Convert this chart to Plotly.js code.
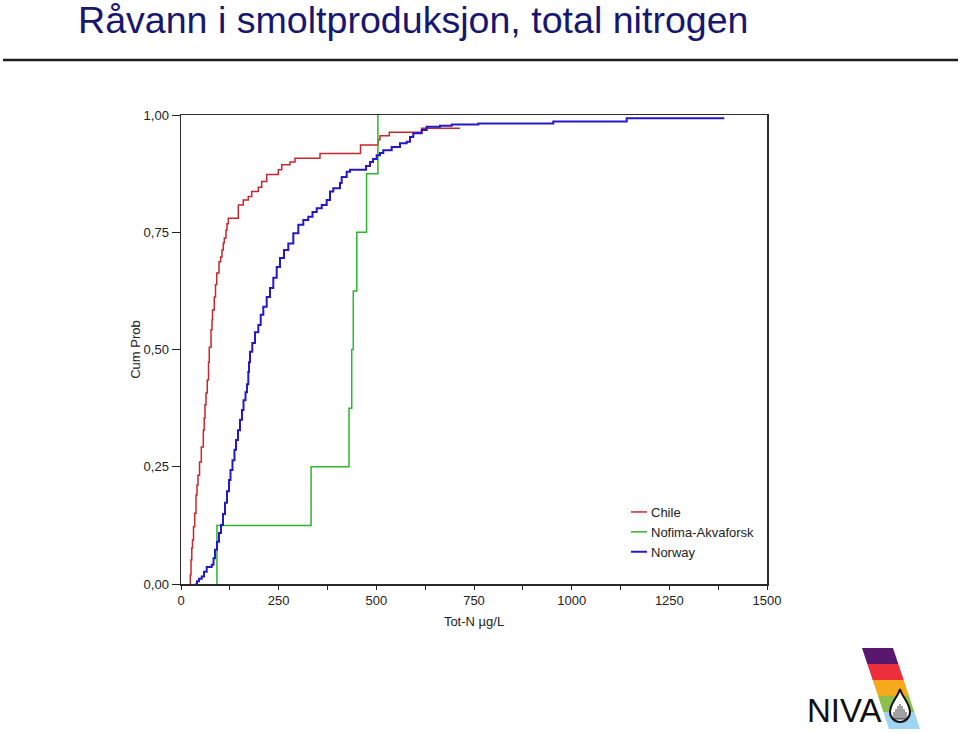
<!DOCTYPE html>
<html>
<head>
<meta charset="utf-8">
<script src="https://cdn.plot.ly/plotly-3.0.1.min.js"></script>
<style>
  html, body { margin: 0; padding: 0; background: #ffffff; }
  #chart { width: 960px; height: 733px; }
</style>
</head>
<body>
<div id="chart"></div>
<script>
// ---- Data ----
const seriesNames = ["Chile", "Nofima-Akvaforsk", "Norway"];

// Chile: Tot-N value (µg/L) and cumulative probability at each step
const chileX = [22.3, 23.8, 25.6, 27.6, 29.4, 32.0, 35.1, 38.4, 41.0, 43.5, 47.4, 52.0, 57.1, 59.4, 61.4, 64.0, 67.3, 70.4, 72.4, 76.8, 79.4, 80.6, 85.2, 88.3, 91.4, 97.3, 101.6, 104.9, 108.3, 110.8, 115.2, 117.7, 121.1, 146.7, 159.5, 172.3, 181.0, 197.9, 206.6, 219.4, 249.1, 257.8, 279.0, 291.8, 355.8, 459.5, 505.0, 509.4, 533.2, 616.1, 714.1];
const chileP = [0, 0.019, 0.051, 0.077, 0.094, 0.122, 0.151, 0.190, 0.211, 0.232, 0.260, 0.292, 0.328, 0.354, 0.382, 0.407, 0.435, 0.473, 0.505, 0.542, 0.563, 0.584, 0.612, 0.638, 0.663, 0.687, 0.697, 0.712, 0.727, 0.738, 0.755, 0.768, 0.780, 0.808, 0.819, 0.826, 0.837, 0.846, 0.858, 0.873, 0.883, 0.894, 0.900, 0.908, 0.918, 0.936, 0.947, 0.956, 0.963, 0.972, 0.972];

// Nofima-Akvaforsk
const nofimaX = [92, 92, 333, 430, 437, 441, 450, 475, 504];
const nofimaP = [0, 0.125, 0.25, 0.375, 0.5, 0.625, 0.75, 0.875, 1.0];

// Norway
const norwayX = [37.1, 41.0, 46.1, 53.0, 58.9, 65.8, 78.6, 83.2, 87.0, 92.1, 97.3, 102.4, 107.5, 112.6, 117.7, 122.9, 126.7, 131.8, 136.9, 140.8, 145.9, 151.0, 156.1, 160.0, 165.1, 168.9, 172.3, 174.1, 176.6, 182.5, 189.4, 197.9, 204.0, 210.7, 219.4, 227.8, 236.3, 245.0, 253.4, 263.6, 274.7, 287.5, 300.3, 313.1, 325.8, 336.6, 347.4, 360.2, 372.9, 381.4, 389.8, 407.0, 411.3, 424.1, 432.6, 473.5, 483.8, 491.5, 500.9, 509.4, 517.8, 539.3, 560.6, 577.7, 586.2, 594.6, 616.1, 628.9, 663.0, 692.9, 761.0, 953.0, 1140.9, 1390.7];
const norwayP = [0, 0.006, 0.011, 0.016, 0.026, 0.036, 0.041, 0.055, 0.073, 0.090, 0.109, 0.126, 0.149, 0.173, 0.198, 0.222, 0.243, 0.264, 0.286, 0.307, 0.328, 0.350, 0.371, 0.392, 0.409, 0.426, 0.452, 0.473, 0.495, 0.514, 0.537, 0.552, 0.574, 0.591, 0.612, 0.631, 0.653, 0.676, 0.695, 0.712, 0.726, 0.748, 0.766, 0.776, 0.783, 0.793, 0.801, 0.808, 0.819, 0.837, 0.844, 0.855, 0.868, 0.879, 0.883, 0.891, 0.900, 0.906, 0.914, 0.919, 0.925, 0.932, 0.940, 0.943, 0.953, 0.961, 0.968, 0.975, 0.977, 0.980, 0.982, 0.986, 0.993, 0.993];

const yTickVals = [0, 0.25, 0.5, 0.75, 1.0];
const xTickVals = [0, 250, 500, 750, 1000, 1250, 1500];

const titleText = "Råvann i smoltproduksjon, total nitrogen";
const xTitle = "Tot-N µg/L";
const yTitle = "Cum Prob";

// ---- Styling ----
const FONT = "Liberation Sans, Arial, Helvetica, sans-serif";
const colors = ["#c8282d", "#2eb42e", "#2418c8"];
const widths = [1.5, 1.5, 2];

const traces = [
  {x: chileX, y: chileP},
  {x: nofimaX, y: nofimaP},
  {x: norwayX, y: norwayP}
].map((d, i) => ({
  type: "scatter", mode: "lines", name: seriesNames[i],
  x: d.x, y: d.y,
  line: {shape: "hv", color: colors[i], width: widths[i]},
  cliponaxis: false,
  hoverinfo: "x+y+name"
}));

// plot area in pixels (for decorative logo / rule placement)
const ML = 181, MR = 193, MT = 115, MB = 149, W = 960, H = 733;
const PW = W - ML - MR, PH = H - MT - MB;
const px = v => (v - ML) / PW;
const py = v => (H - MB - v) / PH;
const P = (x, y) => px(x).toFixed(5) + "," + py(y).toFixed(5);

// NIVA logo stripes (slanted parallelogram bands)
const bandY = [648, 664, 680, 696, 712, 729];
const bandColors = ["#5a176e", "#ec2f3a", "#f6a91c", "#8dbf4a", "#9fd4f2"];
const shapes = [];
shapes.push({type: "line", xref: "paper", yref: "paper",
  x0: px(3), x1: px(958), y0: py(60), y1: py(60),
  line: {color: "#1e1e1e", width: 2.5}});
for (let i = 0; i < 5; i++) {
  const y0 = bandY[i], y1 = bandY[i + 1];
  const l0 = 862 + (y0 - 648) / 3, l1 = 862 + (y1 - 648) / 3;
  const path = "M" + P(l0, y0) + " L" + P(l0 + 31, y0) + " L" + P(l1 + 31, y1) + " L" + P(l1, y1) + " Z";
  shapes.push({type: "path", xref: "paper", yref: "paper", path: path,
    fillcolor: bandColors[i], line: {width: 0}, layer: "above"});
}
// drop
const dropPath = "M" + P(900, 689) + " C" + P(902, 697) + " " + P(910, 703) + " " + P(910, 712) +
  " C" + P(910, 717.5) + " " + P(905.5, 722) + " " + P(900, 722) +
  " C" + P(894.5, 722) + " " + P(890, 717.5) + " " + P(890, 712) +
  " C" + P(890, 703) + " " + P(898, 697) + " " + P(900, 689) + " Z";
shapes.push({type: "path", xref: "paper", yref: "paper", path: dropPath,
  fillcolor: "#ffffff", line: {color: "#111111", width: 2}, layer: "above"});
const combTops = [712, 709, 706, 704, 706, 709, 712];
let comb = "";
for (let k = 0; k < 7; k++) {
  const x = 894 + k * 2;
  comb += "M" + P(x, combTops[k]) + " L" + P(x, 719) + " ";
}
comb += "M" + P(893, 719) + " L" + P(907, 719);
shapes.push({type: "path", xref: "paper", yref: "paper", path: comb,
  line: {color: "#111111", width: 0.8}, layer: "above"});

const layout = {
  width: W, height: H,
  margin: {l: ML, r: MR, t: MT, b: MB, pad: 0},
  paper_bgcolor: "#ffffff", plot_bgcolor: "#ffffff",
  separators: ",.",
  font: {family: FONT, size: 13, color: "#222222"},
  title: {
    text: titleText,
    font: {family: FONT, size: 37.6, color: "#17176f"},
    x: 78 / W, xref: "container", xanchor: "left",
    y: 1 - 20 / H, yref: "container", yanchor: "middle"
  },
  showlegend: true,
  legend: {
    x: px(611), y: py(497), xanchor: "left", yanchor: "top",
    bgcolor: "rgba(0,0,0,0)", borderwidth: 0,
    font: {family: FONT, size: 13, color: "#222222"},
    tracegroupgap: 0
  },
  xaxis: {
    range: [0, 1500], tickvals: xTickVals, ticks: "outside", ticklen: 4, tickwidth: 1,
    tickcolor: "#222222", showline: true, mirror: true, linecolor: "#2a2a2a", linewidth: 1.5,
    showgrid: false, zeroline: false, tickfont: {family: FONT, size: 13, color: "#222222"},
    minor: {dtick: 125, tick0: 0, ticks: "outside", ticklen: 4, tickcolor: "#222222", showgrid: false},
    title: {text: xTitle, standoff: 10, font: {family: FONT, size: 13, color: "#222222"}},
    automargin: false, fixedrange: true
  },
  yaxis: {
    range: [0, 1], tickvals: yTickVals, tickformat: ".2f", ticks: "outside", ticklen: 8, tickwidth: 1,
    tickcolor: "#222222", showline: true, mirror: true, linecolor: "#2a2a2a", linewidth: 1.5,
    showgrid: false, zeroline: false, tickfont: {family: FONT, size: 13, color: "#222222"},
    title: {text: yTitle, standoff: 0, font: {family: FONT, size: 13, color: "#222222"}},
    automargin: false, fixedrange: true
  },
  shapes: shapes,
  annotations: [{
    text: "NIVA", xref: "paper", yref: "paper", x: px(844), y: py(710),
    xanchor: "center", yanchor: "middle", showarrow: false,
    font: {family: FONT, size: 33, color: "#111111"}
  }]
};

Plotly.newPlot("chart", traces, layout, {displayModeBar: false, staticPlot: true}).then(gd => {
  // shorter legend line samples, as in the reference
  gd.querySelectorAll(".legend .legendlines path").forEach(p => p.setAttribute("d", "M20,0h16"));
});
</script>
</body>
</html>
